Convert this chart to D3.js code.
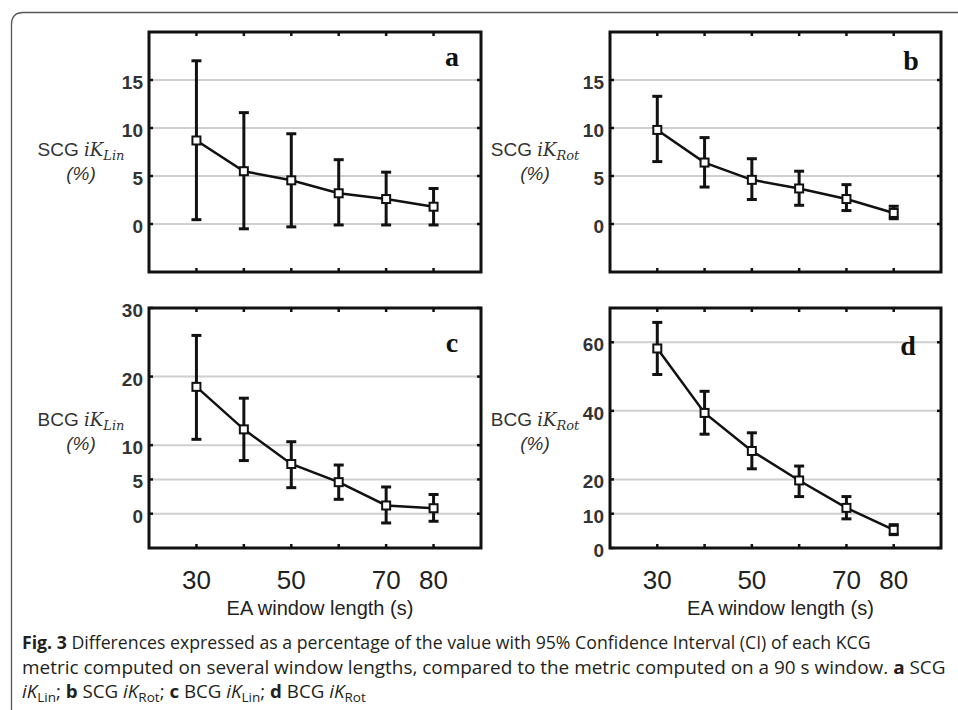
<!DOCTYPE html>
<html>
<head>
<meta charset="utf-8">
<script src="https://cdn.jsdelivr.net/npm/d3@7"></script>
<style>
  html, body { margin: 0; padding: 0; background: #fff; }
  svg { display: block; }
</style>
</head>
<body>
<div id="chart"></div>
<script>
// window lengths (s)
const windows = [30, 40, 50, 60, 70, 80];
const xTickLabels = [30, 50, 70, 80];

// a: SCG iK Lin
const scgLinMean = [8.7, 5.5, 4.55, 3.2, 2.6, 1.8];
const scgLinLow = [0.45, -0.5, -0.3, -0.1, -0.1, -0.1];
const scgLinHigh = [17.0, 11.6, 9.4, 6.7, 5.4, 3.7];

// b: SCG iK Rot
const scgRotMean = [9.8, 6.4, 4.6, 3.7, 2.6, 1.15];
const scgRotLow = [6.5, 3.85, 2.55, 1.95, 1.4, 0.55];
const scgRotHigh = [13.3, 9.0, 6.8, 5.5, 4.1, 1.85];

// c: BCG iK Lin
const bcgLinMean = [18.5, 12.3, 7.25, 4.6, 1.2, 0.8];
const bcgLinLow = [10.85, 7.75, 3.8, 2.1, -1.35, -1.1];
const bcgLinHigh = [26.0, 16.85, 10.5, 7.1, 3.9, 2.8];

// d: BCG iK Rot
const bcgRotMean = [58.2, 39.4, 28.3, 19.7, 11.7, 5.3];
const bcgRotLow = [50.6, 33.2, 23.1, 15.0, 8.5, 3.9];
const bcgRotHigh = [65.8, 45.7, 33.6, 23.9, 15.0, 6.8];

const yTicksScg = [0, 5, 10, 15];
const yTicksBcgLin = [0, 5, 10, 20, 30];
const yTicksBcgRot = [0, 10, 20, 40, 60];

const W = 958, H = 710;
const svg = d3.select("#chart").append("svg")
  .attr("width", W).attr("height", H);

// outer rounded frame (runs off right and bottom edge)
svg.append("path")
  .attr("d", "M11.5,730 L11.5,24.5 Q11.5,12.5 23.5,12.5 L970,12.5")
  .attr("fill", "none").attr("stroke", "#555").attr("stroke-width", 1.3);

const panels = [
  { letter: "a", sig: "SCG", sub: "Lin", mean: scgLinMean, low: scgLinLow, high: scgLinHigh,
    yDomain: [-5, 20], yTicks: yTicksScg, x0: 149, x1: 481, y0: 32, y1: 272,
    labelX: 81, labelY: 156, letterX: 452, letterY: 66, xLabels: false },
  { letter: "b", sig: "SCG", sub: "Rot", mean: scgRotMean, low: scgRotLow, high: scgRotHigh,
    yDomain: [-5, 20], yTicks: yTicksScg, x0: 610, x1: 941, y0: 32, y1: 272,
    labelX: 535, labelY: 156, letterX: 911, letterY: 70, xLabels: false },
  { letter: "c", sig: "BCG", sub: "Lin", mean: bcgLinMean, low: bcgLinLow, high: bcgLinHigh,
    yDomain: [-5, 30], yTicks: yTicksBcgLin, x0: 149, x1: 481, y0: 308, y1: 548,
    labelX: 81, labelY: 426, letterX: 452, letterY: 352, xLabels: true },
  { letter: "d", sig: "BCG", sub: "Rot", mean: bcgRotMean, low: bcgRotLow, high: bcgRotHigh,
    yDomain: [0, 70], yTicks: yTicksBcgRot, x0: 610, x1: 941, y0: 308, y1: 548,
    labelX: 535, labelY: 426, letterX: 908, letterY: 355, xLabels: true }
];

panels.forEach(p => {
  const x = d3.scaleLinear().domain([20, 90]).range([p.x0, p.x1]);
  const y = d3.scaleLinear().domain(p.yDomain).range([p.y1, p.y0]);
  const g = svg.append("g");

  // grid lines
  g.selectAll(".grid")
    .data(p.yTicks.filter(t => t > p.yDomain[0] && t < p.yDomain[1]))
    .enter().append("line")
    .attr("x1", p.x0 + 2).attr("x2", p.x1 - 2)
    .attr("y1", d => y(d)).attr("y2", d => y(d))
    .attr("stroke", "#cfcfcf").attr("stroke-width", 2);

  // inward tick stubs
  windows.forEach(w => {
    g.append("line").attr("x1", x(w)).attr("x2", x(w)).attr("y1", p.y0).attr("y2", p.y0 + 4)
      .attr("stroke", "#111").attr("stroke-width", 2.5);
    g.append("line").attr("x1", x(w)).attr("x2", x(w)).attr("y1", p.y1).attr("y2", p.y1 - 4)
      .attr("stroke", "#111").attr("stroke-width", 2.5);
  });
  p.yTicks.forEach(t => {
    g.append("line").attr("x1", p.x0).attr("x2", p.x0 + 4).attr("y1", y(t)).attr("y2", y(t))
      .attr("stroke", "#111").attr("stroke-width", 2.5);
    g.append("line").attr("x1", p.x1).attr("x2", p.x1 - 4).attr("y1", y(t)).attr("y2", y(t))
      .attr("stroke", "#111").attr("stroke-width", 2.5);
  });

  // frame
  g.append("rect")
    .attr("x", p.x0).attr("y", p.y0)
    .attr("width", p.x1 - p.x0).attr("height", p.y1 - p.y0)
    .attr("fill", "none").attr("stroke", "#111").attr("stroke-width", 3);

  // y tick labels
  g.selectAll(".ylab").data(p.yTicks).enter().append("text")
    .attr("x", p.x0 - 6).attr("y", d => y(d) + 9)
    .attr("text-anchor", "end")
    .attr("font-family", "'Liberation Sans', Arial, sans-serif")
    .attr("font-weight", "bold").attr("font-size", 19).attr("fill", "#333")
    .text(d => d);

  // x tick labels
  if (p.xLabels) {
    g.selectAll(".xlab").data(xTickLabels).enter().append("text")
      .attr("x", d => x(d)).attr("y", 589)
      .attr("text-anchor", "middle")
      .attr("font-family", "'Liberation Sans', Arial, sans-serif")
      .attr("font-size", 26).attr("fill", "#222")
      .text(d => d);
    g.append("text")
      .attr("x", (p.x0 + p.x1) / 2 + 5).attr("y", 615)
      .attr("text-anchor", "middle")
      .attr("font-family", "'Liberation Sans', Arial, sans-serif")
      .attr("font-size", 20).attr("fill", "#222")
      .text("EA window length (s)");
  }

  // error bars
  const cap = 5;
  windows.forEach((w, i) => {
    const cx = x(w);
    g.append("line").attr("x1", cx).attr("x2", cx)
      .attr("y1", y(p.low[i])).attr("y2", y(p.high[i]))
      .attr("stroke", "#111").attr("stroke-width", 3);
    [p.low[i], p.high[i]].forEach(v => {
      g.append("line").attr("x1", cx - cap).attr("x2", cx + cap)
        .attr("y1", y(v)).attr("y2", y(v))
        .attr("stroke", "#111").attr("stroke-width", 3);
    });
  });

  // mean line
  const line = d3.line().x((d, i) => x(windows[i])).y(d => y(d));
  g.append("path").datum(p.mean)
    .attr("d", line).attr("fill", "none")
    .attr("stroke", "#111").attr("stroke-width", 2.5);

  // square markers
  g.selectAll(".pt").data(p.mean).enter().append("rect")
    .attr("x", (d, i) => x(windows[i]) - 4).attr("y", d => y(d) - 4)
    .attr("width", 8).attr("height", 8)
    .attr("fill", "#fff").attr("stroke", "#111").attr("stroke-width", 2);

  // panel letter
  g.append("text")
    .attr("x", p.letterX).attr("y", p.letterY)
    .attr("text-anchor", "middle")
    .attr("font-family", "'Liberation Serif', 'Times New Roman', serif")
    .attr("font-weight", "bold").attr("font-size", 28).attr("fill", "#111")
    .text(p.letter);

  // y axis label
  const lab = g.append("text")
    .attr("x", p.labelX).attr("y", p.labelY)
    .attr("text-anchor", "middle").attr("fill", "#333");
  lab.append("tspan")
    .attr("font-family", "'Liberation Sans', Arial, sans-serif").attr("font-size", 19)
    .text(p.sig + " ");
  lab.append("tspan")
    .attr("font-family", "'DejaVu Serif', serif").attr("font-style", "italic")
    .attr("font-size", 18).text("iK");
  lab.append("tspan")
    .attr("font-family", "'DejaVu Serif', serif").attr("font-style", "italic")
    .attr("font-size", 13).attr("dy", 4).text(p.sub);
  g.append("text")
    .attr("x", p.labelX).attr("y", p.labelY + 24)
    .attr("text-anchor", "middle").attr("fill", "#333")
    .attr("font-family", "'Liberation Sans', Arial, sans-serif")
    .attr("font-style", "italic").attr("font-size", 19)
    .text("(%)");
});

// caption
const capFont = "'Open Sans', 'Noto Sans', sans-serif";
function captionLine(y, parts, targetRight) {
  const t = svg.append("text").attr("x", 0).attr("y", 0)
    .attr("font-family", capFont).attr("font-size", 18).attr("fill", "#231f20");
  parts.forEach(pt => {
    const s = t.append("tspan").text(pt.t);
    if (pt.b) s.attr("font-weight", "bold");
    if (pt.i) s.attr("font-style", "italic");
    if (pt.sub) s.attr("font-size", 13).attr("dy", 4);
    if (pt.up) s.attr("dy", -4);
  });
  const w = t.node().getComputedTextLength();
  const sx = (targetRight - 22) / w;
  t.attr("transform", `translate(22,${y}) scale(${sx},1)`);
}

captionLine(649, [
  { t: "Fig. 3", b: true },
  { t: "  Differences expressed as a percentage of the value with 95% Confidence Interval (CI) of each KCG" }
], 871);
captionLine(674, [
  { t: "metric computed on several window lengths, compared to the metric computed on a 90 s window. " },
  { t: "a", b: true },
  { t: " SCG" }
], 946);
captionLine(698, [
  { t: "iK", i: true }, { t: "Lin", sub: true }, { t: "; ", up: true },
  { t: "b", b: true }, { t: " SCG " }, { t: "iK", i: true }, { t: "Rot", sub: true }, { t: "; ", up: true },
  { t: "c", b: true }, { t: " BCG " }, { t: "iK", i: true }, { t: "Lin", sub: true }, { t: "; ", up: true },
  { t: "d", b: true }, { t: " BCG " }, { t: "iK", i: true }, { t: "Rot", sub: true }
], 366);
</script>
</body>
</html>
